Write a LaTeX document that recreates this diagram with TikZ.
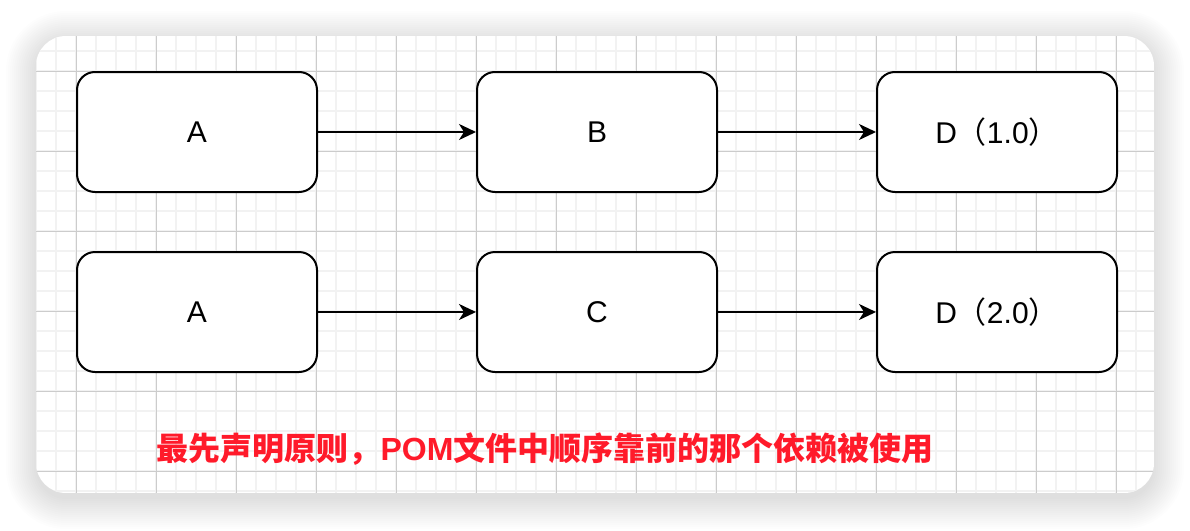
\documentclass[tikz,border=0pt]{standalone}
\usepackage{fontspec}
\setmainfont{Liberation Sans}
\newfontfamily\cjk{Noto Sans CJK SC}
\usetikzlibrary{arrows.meta}
\definecolor{gridminor}{HTML}{F2F2F2}
\definecolor{gridmajor}{HTML}{CCCCCC}
\definecolor{redtxt}{HTML}{FF1A2A}
\begin{document}
\begin{tikzpicture}[x=1pt,y=-1pt,
  box/.style={draw=black, line width=2pt, fill=white, rounded corners=18pt,
    minimum width=240pt, minimum height=120pt, inner sep=0pt,
    font=\fontsize{30}{36}\selectfont},
  conn/.style={line width=2pt, -{Stealth[length=17pt,width=16pt,inset=5pt]}},
  note/.style={text=redtxt, inner sep=0pt, font=\fontsize{32}{38}\selectfont\bfseries}]
\useasboundingbox (0,0) rectangle (1190,530);
% soft shadow
\foreach \i [evaluate=\i as \r using 30+\i] in {0,2,...,30} {
  \fill[black, opacity=0.0095, rounded corners=\r pt] ({36-\i},{41-\i}) rectangle ({1154+\i},{499+\i});
}
% panel with grid
\begin{scope}
  \clip[rounded corners=30pt] (36,36) rectangle (1154,493);
  \fill[white] (36,36) rectangle (1154,493);
  \foreach \x in {36,56,...,1156} \draw[gridminor, line width=1.5pt] (\x,36) -- (\x,493);
  \foreach \y in {51,71,...,491} \draw[gridminor, line width=1.5pt] (36,\y) -- (1154,\y);
  \foreach \x in {76,156,...,1116} \draw[gridmajor, line width=1pt] (\x,36) -- (\x,493);
  \foreach \y in {71,151,...,471} \draw[gridmajor, line width=1pt] (36,\y) -- (1154,\y);
\end{scope}
% nodes
\node[box] (a1) at (197,132) {A};
\node[box] (b)  at (597,132) {B};
\node[box] (d1) at (997,132) {D{\cjk（}1.0{\cjk）}};
\node[box] (a2) at (197,312) {A};
\node[box] (c)  at (597,312) {C};
\node[box] (d2) at (997,312) {D{\cjk（}2.0{\cjk）}};
% connectors
\draw[conn] (a1) -- (b);
\draw[conn] (b) -- (d1);
\draw[conn] (a2) -- (c);
\draw[conn] (c) -- (d2);
% note
\node[note] (txt) at (545,449) {{\cjk\bfseries 最先声明原则，}POM{\cjk\bfseries 文件中顺序靠前的那个依赖被使用}};
\end{tikzpicture}
\end{document}
